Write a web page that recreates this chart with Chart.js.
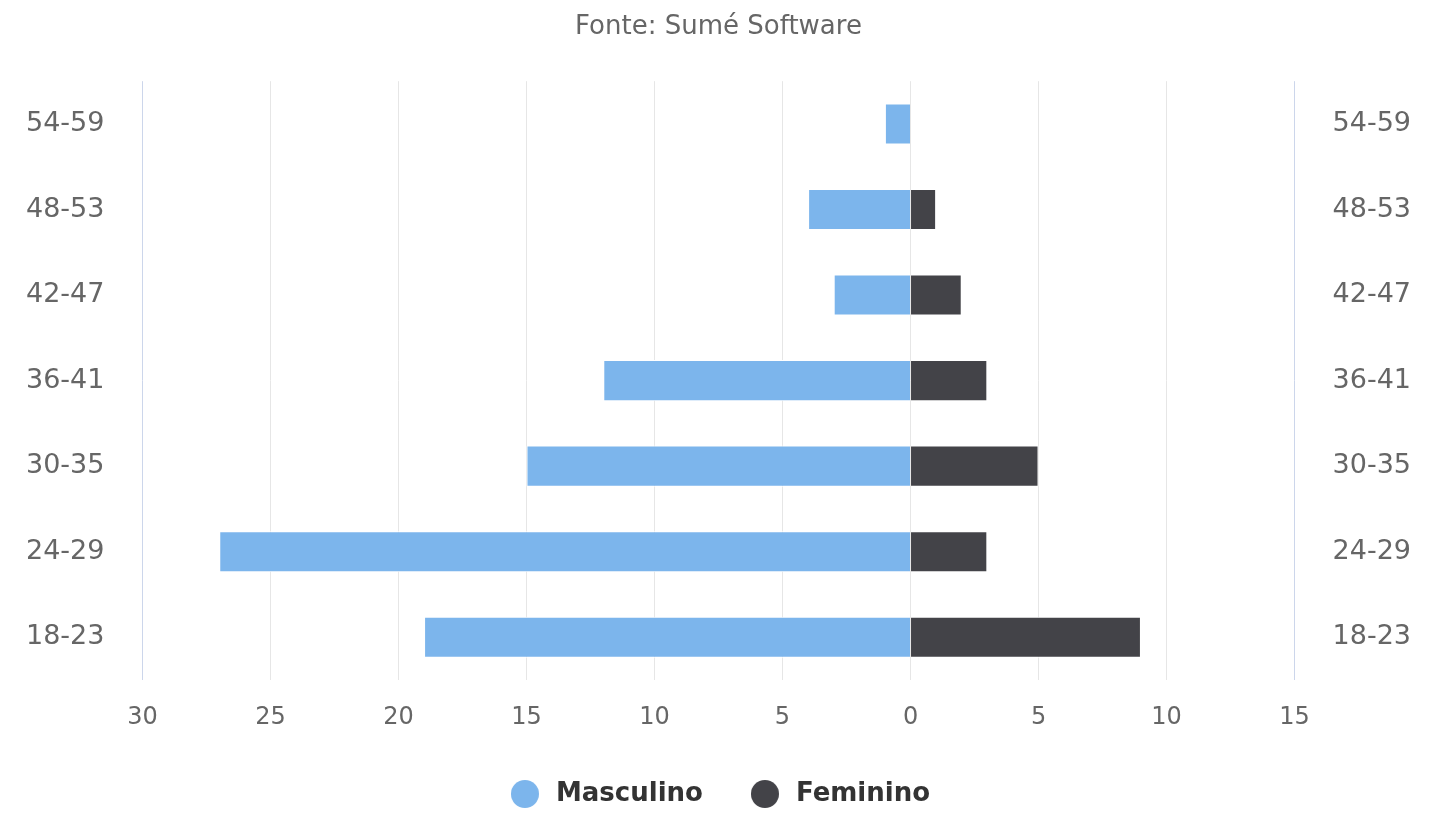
<!DOCTYPE html>
<html>
<head>
<meta charset="utf-8">
<script src="https://cdn.jsdelivr.net/npm/chart.js@4"></script>
<style>
  html, body { margin: 0; padding: 0; background: #fff; }
  #wrap { width: 1432px; height: 814px; position: relative; }
</style>
</head>
<body>
<div id="wrap"><canvas id="chart"></canvas></div>
<script>
// age groups, bottom to top
const categories = ["18-23", "24-29", "30-35", "36-41", "42-47", "48-53", "54-59"];
const masculino = [19, 27, 15, 12, 3, 4, 1];
const feminino = [9, 3, 5, 3, 2, 1, 0];
const xTicks = [-30, -25, -20, -15, -10, -5, 0, 5, 10, 15];

const FONT = "'DejaVu Sans', sans-serif";

// round legend marker
function dot(color) {
    const c = document.createElement("canvas");
    c.width = 28;
    c.height = 28;
    const g = c.getContext("2d");
    g.fillStyle = color;
    g.beginPath();
    g.arc(14, 14, 14, 0, Math.PI * 2);
    g.fill();
    return c;
}

new Chart(document.getElementById("chart"), {
    type: "bar",
    data: {
        labels: categories,
        datasets: [
            {
                label: "Masculino",
                data: masculino.map(v => -v), // left side
                backgroundColor: "#7cb5ec",
                borderColor: "#ffffff",
                borderWidth: 1,
                barPercentage: 0.48,
                categoryPercentage: 1,
                pointStyle: dot("#7cb5ec"),
            },
            {
                label: "Feminino",
                data: feminino,
                backgroundColor: "#434348",
                borderColor: "#ffffff",
                borderWidth: 1,
                barPercentage: 0.48,
                categoryPercentage: 1,
                pointStyle: dot("#434348"),
            },
        ],
    },
    options: {
        indexAxis: "y",
        responsive: true,
        maintainAspectRatio: false,
        animation: false,
        layout: { padding: { left: 26, right: 21, top: 0, bottom: 0 } },
        plugins: {
            title: {
                display: true,
                text: "Fonte: Sumé Software",
                color: "#666666",
                font: { family: FONT, size: 26, weight: "normal" },
                padding: { top: 12, bottom: 38 },
            },
            legend: {
                position: "bottom",
                maxHeight: 77,
                labels: {
                    usePointStyle: true,
                    boxHeight: 20,
                    pointStyleWidth: 36,
                    padding: 44,
                    color: "#333333",
                    font: { family: FONT, size: 26, weight: "bold", lineHeight: 0.75 },
                },
            },
            tooltip: { enabled: false },
        },
        scales: {
            x: {
                stacked: true,
                min: -30,
                max: 15,
                afterBuildTicks: (axis) => { axis.ticks = xTicks.map(v => ({ value: v })); },
                afterFit: (axis) => { axis.height = 57; },
                ticks: {
                    color: "#666666",
                    font: { family: FONT, size: 24 },
                    padding: 23,
                    maxRotation: 0,
                    callback: (v) => Math.abs(v),
                },
                grid: {
                    drawTicks: false,
                    lineWidth: 1,
                    color: (ctx) => (ctx.tick && (ctx.tick.value === -30 || ctx.tick.value === 15)) ? "#ccd6eb" : "#e6e6e6",
                },
                border: { display: false },
            },
            y: {
                stacked: true,
                reverse: true,
                position: "left",
                ticks: {
                    color: "#666666",
                    font: { family: FONT, size: 27 },
                    padding: 19,
                    crossAlign: "far",
                },
                grid: { display: false, drawTicks: false },
                border: { display: false },
            },
            y2: {
                type: "category",
                labels: categories,
                reverse: true,
                position: "right",
                display: true,
                ticks: {
                    color: "#666666",
                    font: { family: FONT, size: 27 },
                    padding: 19,
                    crossAlign: "far",
                },
                grid: { display: false, drawTicks: false },
                border: { display: false },
            },
        },
    },
});
</script>
</body>
</html>
